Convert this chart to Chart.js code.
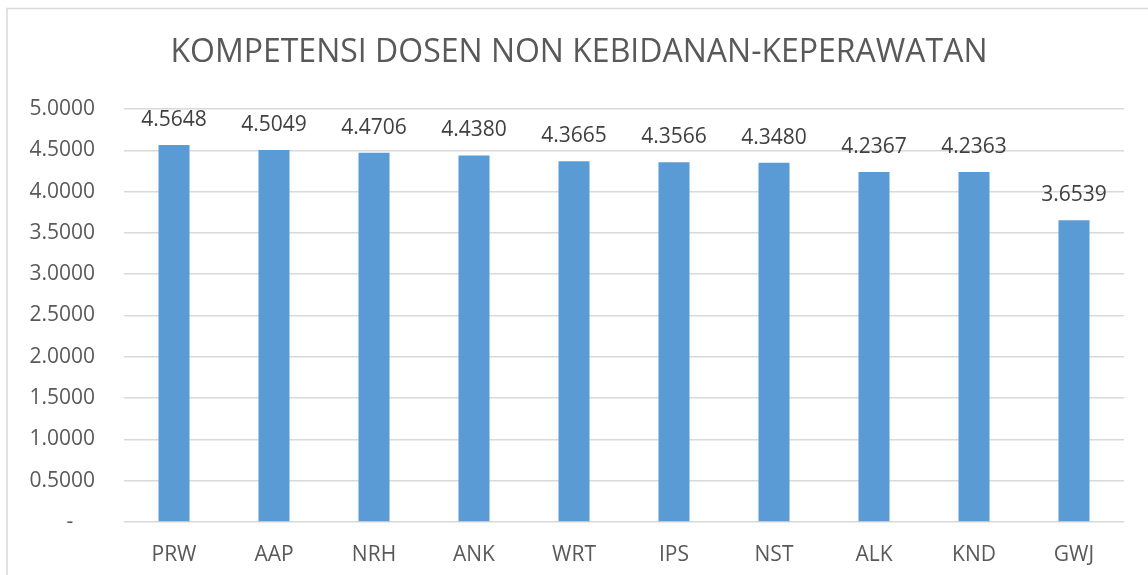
<!DOCTYPE html>
<html>
<head>
<meta charset="utf-8">
<script src="https://cdn.jsdelivr.net/npm/chart.js@4"></script>
<style>
  body { margin: 0; background: #fff; }
  #wrap { width: 1148px; height: 575px; position: relative; }
</style>
</head>
<body>
<div id="wrap"><canvas id="barChart" width="1148" height="575"></canvas></div>
<script>
// Data
const categories = ['PRW', 'AAP', 'NRH', 'ANK', 'WRT', 'IPS', 'NST', 'ALK', 'KND', 'GWJ'];
const scores = [4.5648, 4.5049, 4.4706, 4.4380, 4.3665, 4.3566, 4.3480, 4.2367, 4.2363, 3.6539];
const yTicks = [0, 0.5, 1, 1.5, 2, 2.5, 3, 3.5, 4, 4.5, 5];
const chartTitle = 'KOMPETENSI DOSEN NON KEBIDANAN-KEPERAWATAN';

const FONT = "'Open Sans', sans-serif";

// Outer frame + title (drawn by hand so it centres like the Excel original)
const framePlugin = {
  id: 'frame',
  beforeDraw(chart) {
    const ctx = chart.ctx;
    ctx.save();
    ctx.fillStyle = '#fff';
    ctx.fillRect(0, 0, chart.width, chart.height);
    ctx.strokeStyle = '#d9d9d9';
    ctx.lineWidth = 1.5;
    ctx.strokeRect(7, 8.5, chart.width + 20, chart.height + 20);
    ctx.font = '32px ' + FONT;
    ctx.fillStyle = '#595959';
    ctx.textAlign = 'center';
    ctx.textBaseline = 'middle';
    ctx.fillText(chartTitle, 579, 53);
    ctx.restore();
  }
};

// Value labels above each bar
const valueLabels = {
  id: 'valueLabels',
  afterDatasetsDraw(chart) {
    const ctx = chart.ctx;
    const meta = chart.getDatasetMeta(0);
    ctx.save();
    ctx.font = '21px ' + FONT;
    ctx.fillStyle = '#404040';
    ctx.textAlign = 'center';
    ctx.textBaseline = 'middle';
    meta.data.forEach((bar, i) => {
      ctx.fillText(scores[i].toFixed(4), bar.x, bar.y - 25);
    });
    ctx.restore();
  }
};

const ctx = document.getElementById('barChart').getContext('2d');
new Chart(ctx, {
  type: 'bar',
  data: {
    labels: categories,
    datasets: [{
      data: scores,
      backgroundColor: '#5b9bd5',
      barPercentage: 0.31,
      categoryPercentage: 1.0
    }]
  },
  options: {
    responsive: false,
    animation: false,
    layout: { padding: { top: 109, right: 24, bottom: 0, left: 0 } },
    plugins: {
      legend: { display: false },
      tooltip: { enabled: false },
      title: { display: false }
    },
    scales: {
      x: {
        grid: { display: false, drawTicks: false },
        border: { display: false },
        ticks: {
          color: '#595959',
          font: { family: FONT, size: 21 },
          padding: 20
        },
        afterFit(scale) { scale.height = 53; }
      },
      y: {
        min: 0,
        max: 5,
        afterBuildTicks(scale) {
          scale.ticks = yTicks.map(v => ({ value: v }));
        },
        grid: { color: '#d9d9d9', lineWidth: 1.5, drawTicks: false },
        border: { display: false },
        ticks: {
          color: '#595959',
          font: { family: FONT, size: 21 },
          padding: 29,
          callback: v => (v === 0 ? '-    ' : v.toFixed(4))
        },
        afterFit(scale) { scale.width = 124; }
      }
    }
  },
  plugins: [framePlugin, valueLabels]
});
</script>
</body>
</html>
